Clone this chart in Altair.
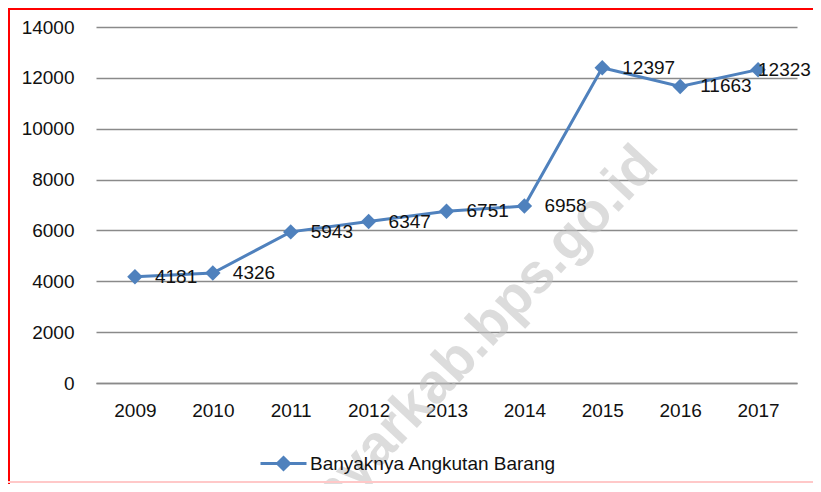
import altair as alt
import pandas as pd

# ---- data ----
years = ["2009", "2010", "2011", "2012", "2013", "2014", "2015", "2016", "2017"]
values = [4181, 4326, 5943, 6347, 6751, 6958, 12397, 11663, 12323]
series_name = "Banyaknya Angkutan Barang"
y_ticks = [0, 2000, 4000, 6000, 8000, 10000, 12000, 14000]
watermark_text = "gianyarkab.bps.go.id"

df = pd.DataFrame({"year": years, "value": values, "series": [series_name] * len(years)})

FONT = "Liberation Sans"
BLUE = "#4F81BD"
GRID = "#8a8a8a"
TXT = "#111111"
W, H = 701, 356

x_enc = alt.X(
    "year:O",
    scale=alt.Scale(type="point", padding=0.5),
    axis=alt.Axis(
        title=None, ticks=False, domain=True, domainColor=GRID, domainWidth=1.3,
        labelFont=FONT, labelFontSize=19, labelColor=TXT, labelPadding=18,
        labelAngle=0, grid=False,
    ),
)
y_enc = alt.Y(
    "value:Q",
    scale=alt.Scale(domain=[0, 14000], nice=False),
    axis=alt.Axis(
        title=None, values=y_ticks, ticks=False, domain=False, grid=True,
        gridColor=GRID, gridWidth=1.3, labelFont=FONT, labelFontSize=19,
        labelColor=TXT, labelPadding=22, format="d",
    ),
)

base = alt.Chart(df)

watermark = alt.Chart(pd.DataFrame({"t": [watermark_text]})).mark_text(
    angle=313, fontSize=56, fontWeight="bold", font=FONT, color="#c0c0c0", opacity=0.55,
    align="center", baseline="middle",
).encode(text="t:N", x=alt.value(361), y=alt.value(333))

line = base.mark_line(strokeWidth=3).encode(
    x=x_enc, y=y_enc,
    color=alt.Color(
        "series:N",
        scale=alt.Scale(range=[BLUE]),
        legend=alt.Legend(
            title=None, orient="none", legendX=163, legendY=412,
            symbolType="M-1,0H1M0,-0.26L0.26,0L0,0.26L-0.26,0Z",
            symbolSize=2116, symbolStrokeWidth=3,
            symbolFillColor=BLUE, symbolStrokeColor=BLUE,
            labelFont=FONT, labelFontSize=19, labelColor=TXT, labelOffset=2,
            labelLimit=0,
        ),
    ),
)

points = base.mark_point(shape="diamond", filled=True, size=240, opacity=1, color=BLUE).encode(
    x=x_enc, y=y_enc
)

labels = base.transform_filter(alt.datum.year != "2017").mark_text(
    align="left", baseline="middle", dx=20, font=FONT, fontSize=19, color=TXT
).encode(x=x_enc, y=y_enc, text=alt.Text("value:Q", format="d"))

label_last = base.transform_filter(alt.datum.year == "2017").mark_text(
    align="left", baseline="middle", dx=0, font=FONT, fontSize=19, color=TXT
).encode(x=x_enc, y=y_enc, text=alt.Text("value:Q", format="d"))

border_left = alt.Chart(pd.DataFrame({"a": [0]})).mark_rule(color="#ff0000", strokeWidth=2).encode(
    x=alt.value(-87), y=alt.value(-19), y2=alt.value(460)
)
border_top = alt.Chart(pd.DataFrame({"a": [0]})).mark_rule(color="#ff0000", strokeWidth=2).encode(
    x=alt.value(-88), x2=alt.value(730), y=alt.value(-18)
)
border_bottom = alt.Chart(pd.DataFrame({"a": [0]})).mark_rule(color="#ffc8c8", strokeWidth=2).encode(
    x=alt.value(-88), x2=alt.value(730), y=alt.value(455)
)

chart = alt.layer(
    line, points, watermark, labels, label_last, border_left, border_top, border_bottom
).properties(
    width=W, height=H,
    autosize=alt.AutoSizeParams(type="none"),
    padding={"left": 88, "top": 19, "right": 16, "bottom": 101},
    background="white",
).configure_view(stroke=None)

chart.save("out.html", embed_options={"renderer": "svg", "actions": False})
